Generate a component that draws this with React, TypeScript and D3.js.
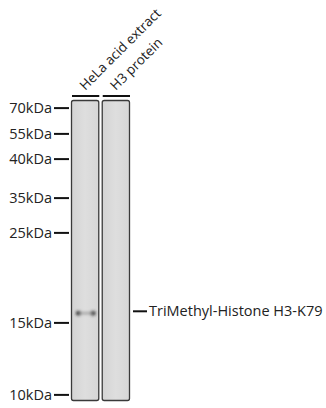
import React from "react";
import * as d3 from "d3";

const lanes = ["HeLa acid extract", "H3 protein"];
const markers = ["70kDa", "55kDa", "40kDa", "35kDa", "25kDa", "15kDa", "10kDa"];
const markerRf = [0.027, 0.113, 0.197, 0.327, 0.443, 0.743, 0.983];
const bandLabel = "TriMethyl-Histone H3-K79";
const bandRf = 0.711;
// band intensity per lane (0..1)
const bandIntensity = [1, 0];

const W = 326;
const H = 408;
const FONT = "'Open Sans', 'DejaVu Sans', sans-serif";

export default function App() {
  const blotTop = 100;
  const blotBottom = 400;
  const y = d3.scaleLinear().domain([0, 1]).range([blotTop, blotBottom]);
  const x = d3.scaleBand().domain(lanes).range([71, 130]).paddingInner(0.08);
  const lw = x.bandwidth();

  return (
    <svg width={W} height={H} style={{ position: "absolute", left: 0, top: 0, background: "#fff" }}>
      <defs>
        <filter id="blur" x="-50%" y="-100%" width="200%" height="300%">
          <feGaussianBlur stdDeviation="1.4" />
        </filter>
        <linearGradient id="laneg" x1="0" x2="1" y1="0" y2="0">
          <stop offset="0" stopColor="#d4d4d4" />
          <stop offset="0.5" stopColor="#dedede" />
          <stop offset="1" stopColor="#d6d6d6" />
        </linearGradient>
      </defs>
      {lanes.map((l, i) => {
        const x0 = x(l)!;
        return (
          <g key={l}>
            <rect x={x0 + 0.5} y={blotTop + 0.5} width={lw - 1} height={blotBottom - blotTop} rx={2} fill="url(#laneg)" stroke="#3a3a3a" strokeWidth={1.3} />
            <line x1={x0 + 1} x2={x0 + lw} y1={96} y2={96} stroke="#111" strokeWidth={2} />
            <text
              transform={`translate(${x0 + lw / 2},${91}) rotate(-45)`}
              fontFamily={FONT}
              fontSize={13.5}
              fill="#222"
            >
              {l}
            </text>
            {bandIntensity[i] > 0 && (
              <g filter="url(#blur)" opacity={bandIntensity[i]}>
                <ellipse cx={x0 + 7.5} cy={y(bandRf)} rx={2.6} ry={2.2} fill="#222" />
                <ellipse cx={x0 + 22} cy={y(bandRf)} rx={2.6} ry={2.3} fill="#222" />
                <rect x={x0 + 8} y={y(bandRf) - 0.8} width={14} height={1.6} fill="#888" />
              </g>
            )}
          </g>
        );
      })}
      {markers.map((m, i) => (
        <g key={m}>
          <line x1={54} x2={69} y1={y(markerRf[i])} y2={y(markerRf[i])} stroke="#111" strokeWidth={2} />
          <text x={52} y={y(markerRf[i])} dy="0.35em" textAnchor="end" fontFamily={FONT} fontSize={14.5} fill="#222">
            {m}
          </text>
        </g>
      ))}
      <line x1={133} x2={147} y1={y(bandRf) - 2} y2={y(bandRf) - 2} stroke="#111" strokeWidth={2} />
      <text x={149} y={y(bandRf) - 2} dy="0.35em" fontFamily={FONT} fontSize={14.5} fill="#222">
        {bandLabel}
      </text>
    </svg>
  );
}
